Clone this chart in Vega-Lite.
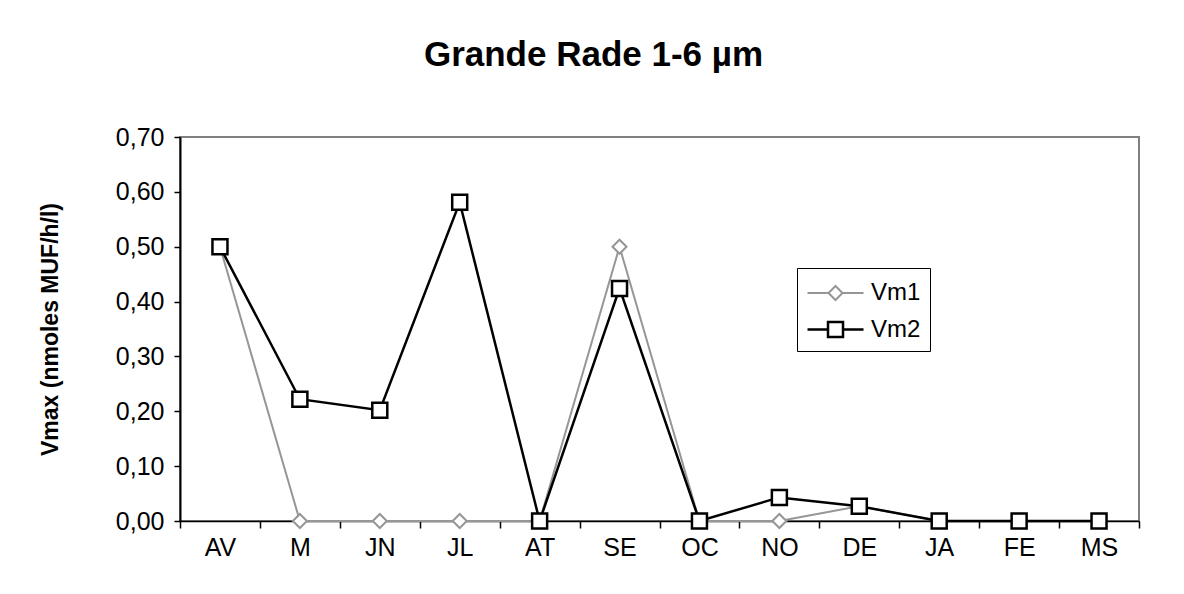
{
  "$schema": "https://vega.github.io/schema/vega-lite/v6.json",
  "width": 959,
  "height": 384,
  "autosize": {"type": "none"},
  "padding": {"left": 180, "top": 137, "right": 45, "bottom": 73},
  "background": "white",
  "title": {"text": "Grande Rade 1-6 µm", "font": "Liberation Sans", "fontSize": 35, "fontWeight": "bold", "color": "black", "anchor": "middle", "dx": -66, "offset": 52},
  "data": {"values": [
    {"month": "AV", "series": "Vm1", "value": 0.50},
    {"month": "M", "series": "Vm1", "value": 0},
    {"month": "JN", "series": "Vm1", "value": 0},
    {"month": "JL", "series": "Vm1", "value": 0},
    {"month": "AT", "series": "Vm1", "value": 0},
    {"month": "SE", "series": "Vm1", "value": 0.50},
    {"month": "OC", "series": "Vm1", "value": 0},
    {"month": "NO", "series": "Vm1", "value": 0},
    {"month": "DE", "series": "Vm1", "value": 0.027},
    {"month": "JA", "series": "Vm1", "value": 0},
    {"month": "FE", "series": "Vm1", "value": 0},
    {"month": "MS", "series": "Vm1", "value": 0},
    {"month": "AV", "series": "Vm2", "value": 0.50},
    {"month": "M", "series": "Vm2", "value": 0.222},
    {"month": "JN", "series": "Vm2", "value": 0.202},
    {"month": "JL", "series": "Vm2", "value": 0.581},
    {"month": "AT", "series": "Vm2", "value": 0},
    {"month": "SE", "series": "Vm2", "value": 0.424},
    {"month": "OC", "series": "Vm2", "value": 0},
    {"month": "NO", "series": "Vm2", "value": 0.043},
    {"month": "DE", "series": "Vm2", "value": 0.027},
    {"month": "JA", "series": "Vm2", "value": 0},
    {"month": "FE", "series": "Vm2", "value": 0},
    {"month": "MS", "series": "Vm2", "value": 0}
  ]},
  "encoding": {
    "x": {
      "field": "month", "type": "nominal",
      "sort": ["AV", "M", "JN", "JL", "AT", "SE", "OC", "NO", "DE", "JA", "FE", "MS"],
      "scale": {"type": "band", "paddingInner": 0, "paddingOuter": 0},
      "axis": {"title": null, "labelAngle": 0, "labelFont": "Liberation Sans", "labelFontSize": 25, "labelColor": "black", "domainColor": "black", "domainWidth": 1.5, "tickColor": "black", "tickWidth": 1.5, "tickSize": 7, "tickBand": "extent", "labelPadding": 7, "grid": false}
    },
    "y": {
      "field": "value", "type": "quantitative",
      "scale": {"domain": [0, 0.7], "nice": false},
      "axis": {"title": "Vmax (nmoles MUF/h/l)", "titleFont": "Liberation Sans", "titleFontSize": 23, "titleFontWeight": "bold", "titleColor": "black", "titlePadding": 53, "values": [0, 0.1, 0.2, 0.3, 0.4, 0.5, 0.6, 0.7], "labelExpr": "replace(format(datum.value, '.2f'), '.', ',')", "labelFont": "Liberation Sans", "labelFontSize": 25, "labelColor": "black", "labelPadding": 10, "domainColor": "black", "domainWidth": 2, "tickColor": "black", "tickWidth": 1.5, "tickSize": 6, "grid": false}
    }
  },
  "layer": [
    {
      "mark": {"type": "line"},
      "encoding": {
        "stroke": {
          "field": "series", "type": "nominal",
          "scale": {"domain": ["Vm1", "Vm2"], "range": ["#969696", "#000000"]},
          "legend": {
            "title": null, "orient": "none", "legendX": 617, "legendY": 131,
            "strokeColor": "black", "fillColor": "white", "padding": 9, "cornerRadius": 0,
            "labelFont": "Liberation Sans", "labelFontSize": 24, "labelColor": "black", "labelOffset": 32,
            "rowPadding": 8,
            "symbolSize": 900, "symbolStrokeWidth": 2, "symbolFillColor": "white",
            "symbolType": "M-1,0L0.4,0M1.334,0L2.734,0M0.867,-0.467L1.334,0L0.867,0.467L0.4,0Z",
            "encode": {"symbols": {"update": {
              "shape": {"signal": "datum.value === 'Vm1' ? 'M-1,0L0.4,0M1.334,0L2.734,0M0.867,-0.467L1.334,0L0.867,0.467L0.4,0Z' : 'M-1,0L0.367,0M1.367,0L2.734,0M0.367,-0.5L1.367,-0.5L1.367,0.5L0.367,0.5Z'"},
              "fill": {"value": "white"}
            }}}
          }
        },
        "strokeWidth": {"field": "series", "type": "nominal", "scale": {"domain": ["Vm1", "Vm2"], "range": [2, 2.5]}, "legend": null}
      }
    },
    {
      "transform": [{"filter": "datum.series === 'Vm1'"}],
      "mark": {"type": "point", "shape": "diamond", "size": 196, "fill": "white", "fillOpacity": 1, "opacity": 1, "stroke": "#969696", "strokeWidth": 2}
    },
    {
      "transform": [{"filter": "datum.series === 'Vm2'"}],
      "mark": {"type": "point", "shape": "square", "size": 225, "fill": "white", "fillOpacity": 1, "opacity": 1, "stroke": "#000000", "strokeWidth": 2.5}
    }
  ],
  "config": {
    "view": {"stroke": "#808080", "strokeWidth": 2},
    "font": "Liberation Sans"
  }
}
